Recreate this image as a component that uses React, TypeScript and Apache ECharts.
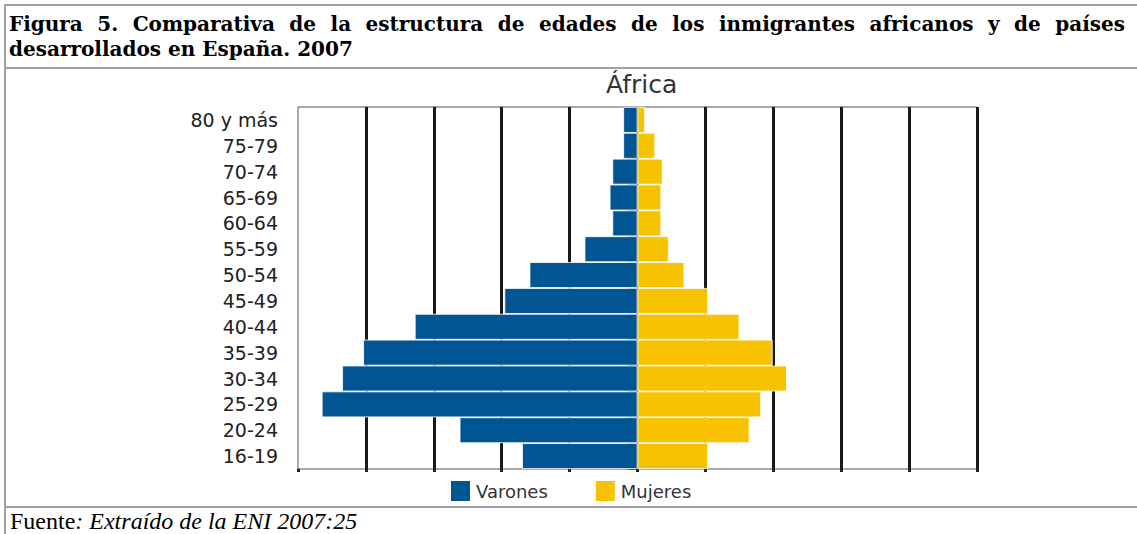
import React, { useEffect, useRef } from "react";
import * as echarts from "echarts";

const ageGroups = ["16-19", "20-24", "25-29", "30-34", "35-39", "40-44", "45-49", "50-54", "55-59", "60-64", "65-69", "70-74", "75-79", "80 y más"];
const varones = [1.7, 2.62, 4.65, 4.35, 4.04, 3.28, 1.96, 1.59, 0.78, 0.37, 0.41, 0.37, 0.21, 0.21];
const mujeres = [1.04, 1.65, 1.82, 2.2, 1.99, 1.5, 1.04, 0.69, 0.46, 0.35, 0.35, 0.37, 0.26, 0.11];
const headerLine1 = "Figura 5. Comparativa de la estructura de edades de los inmigrantes africanos y de países";
const headerLine2 = "desarrollados en España. 2007";
const chartTitle = "África";
const sourceLabel = "Fuente";
const sourceText = ": Extraído de la ENI 2007:25";

const BLUE = "#005592";
const YELLOW = "#F7C300";
const BORDER = "#a0a0a0";
const SANS = "'DejaVu Sans', sans-serif";
const SERIF = "'DejaVu Serif', serif";

function justifiedWords(text: string, x0: number, x1: number, y: number, font: string) {
  const canvas = document.createElement("canvas");
  const ctx = canvas.getContext("2d")!;
  ctx.font = font;
  const words = text.split(" ");
  const widths = words.map((w) => ctx.measureText(w).width);
  const total = widths.reduce((a, b) => a + b, 0);
  const gap = (x1 - x0 - total) / (words.length - 1);
  let x = x0;
  return words.map((w, i) => {
    const el = { type: "text", x, y, style: { text: w, font, fill: "#000", textVerticalAlign: "top" } };
    x += widths[i] + gap;
    return el;
  });
}

export default function App() {
  const ref = useRef<HTMLDivElement>(null);
  useEffect(() => {
    if (!ref.current) return;
    const chart = echarts.init(ref.current, null, { renderer: "svg" });
    const headerFont = `bold 20px ${SERIF}`;
    const option = {
      animation: false,
      title: {
        text: chartTitle,
        left: 601,
        top: 67,
        textStyle: { fontFamily: SANS, fontSize: 25, fontWeight: "normal", color: "#333" },
      },
      legend: {
        data: ["Varones", "Mujeres"],
        left: 444,
        top: 474,
        itemWidth: 21,
        itemHeight: 22,
        itemGap: 46,
        icon: "rect",
        textStyle: { fontFamily: SANS, fontSize: 18, color: "#333" },
      },
      grid: { left: 298, right: 160, top: 107, bottom: 65, show: true, borderColor: "#555", borderWidth: 1 },
      xAxis: {
        type: "value",
        min: -5,
        max: 5,
        interval: 1,
        axisLabel: { show: false },
        axisLine: { show: false },
        axisTick: { show: true, length: 3, lineStyle: { color: "#222", width: 3 } },
        splitLine: { show: true, showMinLine: false, showMaxLine: true, lineStyle: { color: "#1a1a1a", width: 3 } },
      },
      yAxis: {
        type: "category",
        data: ageGroups,
        axisLine: { show: false },
        axisTick: { show: true, length: 10, lineStyle: { color: "#555" } },
        axisLabel: { margin: 20, fontFamily: SANS, fontSize: 19, color: "#222" },
      },
      series: [
        {
          name: "Varones",
          type: "bar",
          stack: "total",
          barCategoryGap: "0%",
          data: varones.map((v) => -v),
          itemStyle: { color: BLUE, borderColor: "#ffffff", borderWidth: 0.8 },
        },
        {
          name: "Mujeres",
          type: "bar",
          stack: "total",
          barCategoryGap: "0%",
          data: mujeres,
          itemStyle: { color: YELLOW, borderColor: "#ffffff", borderWidth: 0.8 },
        },
      ],
      graphic: [
        { type: "line", shape: { x1: 5, y1: 4, x2: 5, y2: 534 }, style: { stroke: BORDER, lineWidth: 2 } },
        { type: "line", shape: { x1: 4, y1: 5, x2: 1137, y2: 5 }, style: { stroke: BORDER, lineWidth: 2 } },
        { type: "line", shape: { x1: 4, y1: 68, x2: 1137, y2: 68 }, style: { stroke: BORDER, lineWidth: 2 } },
        { type: "line", shape: { x1: 4, y1: 507, x2: 1137, y2: 507 }, style: { stroke: BORDER, lineWidth: 2 } },
        ...justifiedWords(headerLine1, 9, 1125, 14, headerFont),
        { type: "text", x: 9, y: 39, style: { text: headerLine2, font: headerFont, fill: "#000", textVerticalAlign: "top" } },
        {
          type: "text",
          x: 10,
          y: 509,
          style: {
            text: `{n|${sourceLabel}}{i|${sourceText}}`,
            rich: {
              n: { fontFamily: "'Liberation Serif', serif", fontSize: 24, fill: "#000" },
              i: { fontFamily: "'Liberation Serif', serif", fontSize: 24, fontStyle: "italic", fill: "#000" },
            },
            textVerticalAlign: "top",
          },
        },
      ],
    };
    chart.setOption(option as any);
    return () => chart.dispose();
  }, []);
  return <div ref={ref} style={{ position: "fixed", left: 0, top: 0, width: 1137, height: 534, background: "#fff" }} />;
}
